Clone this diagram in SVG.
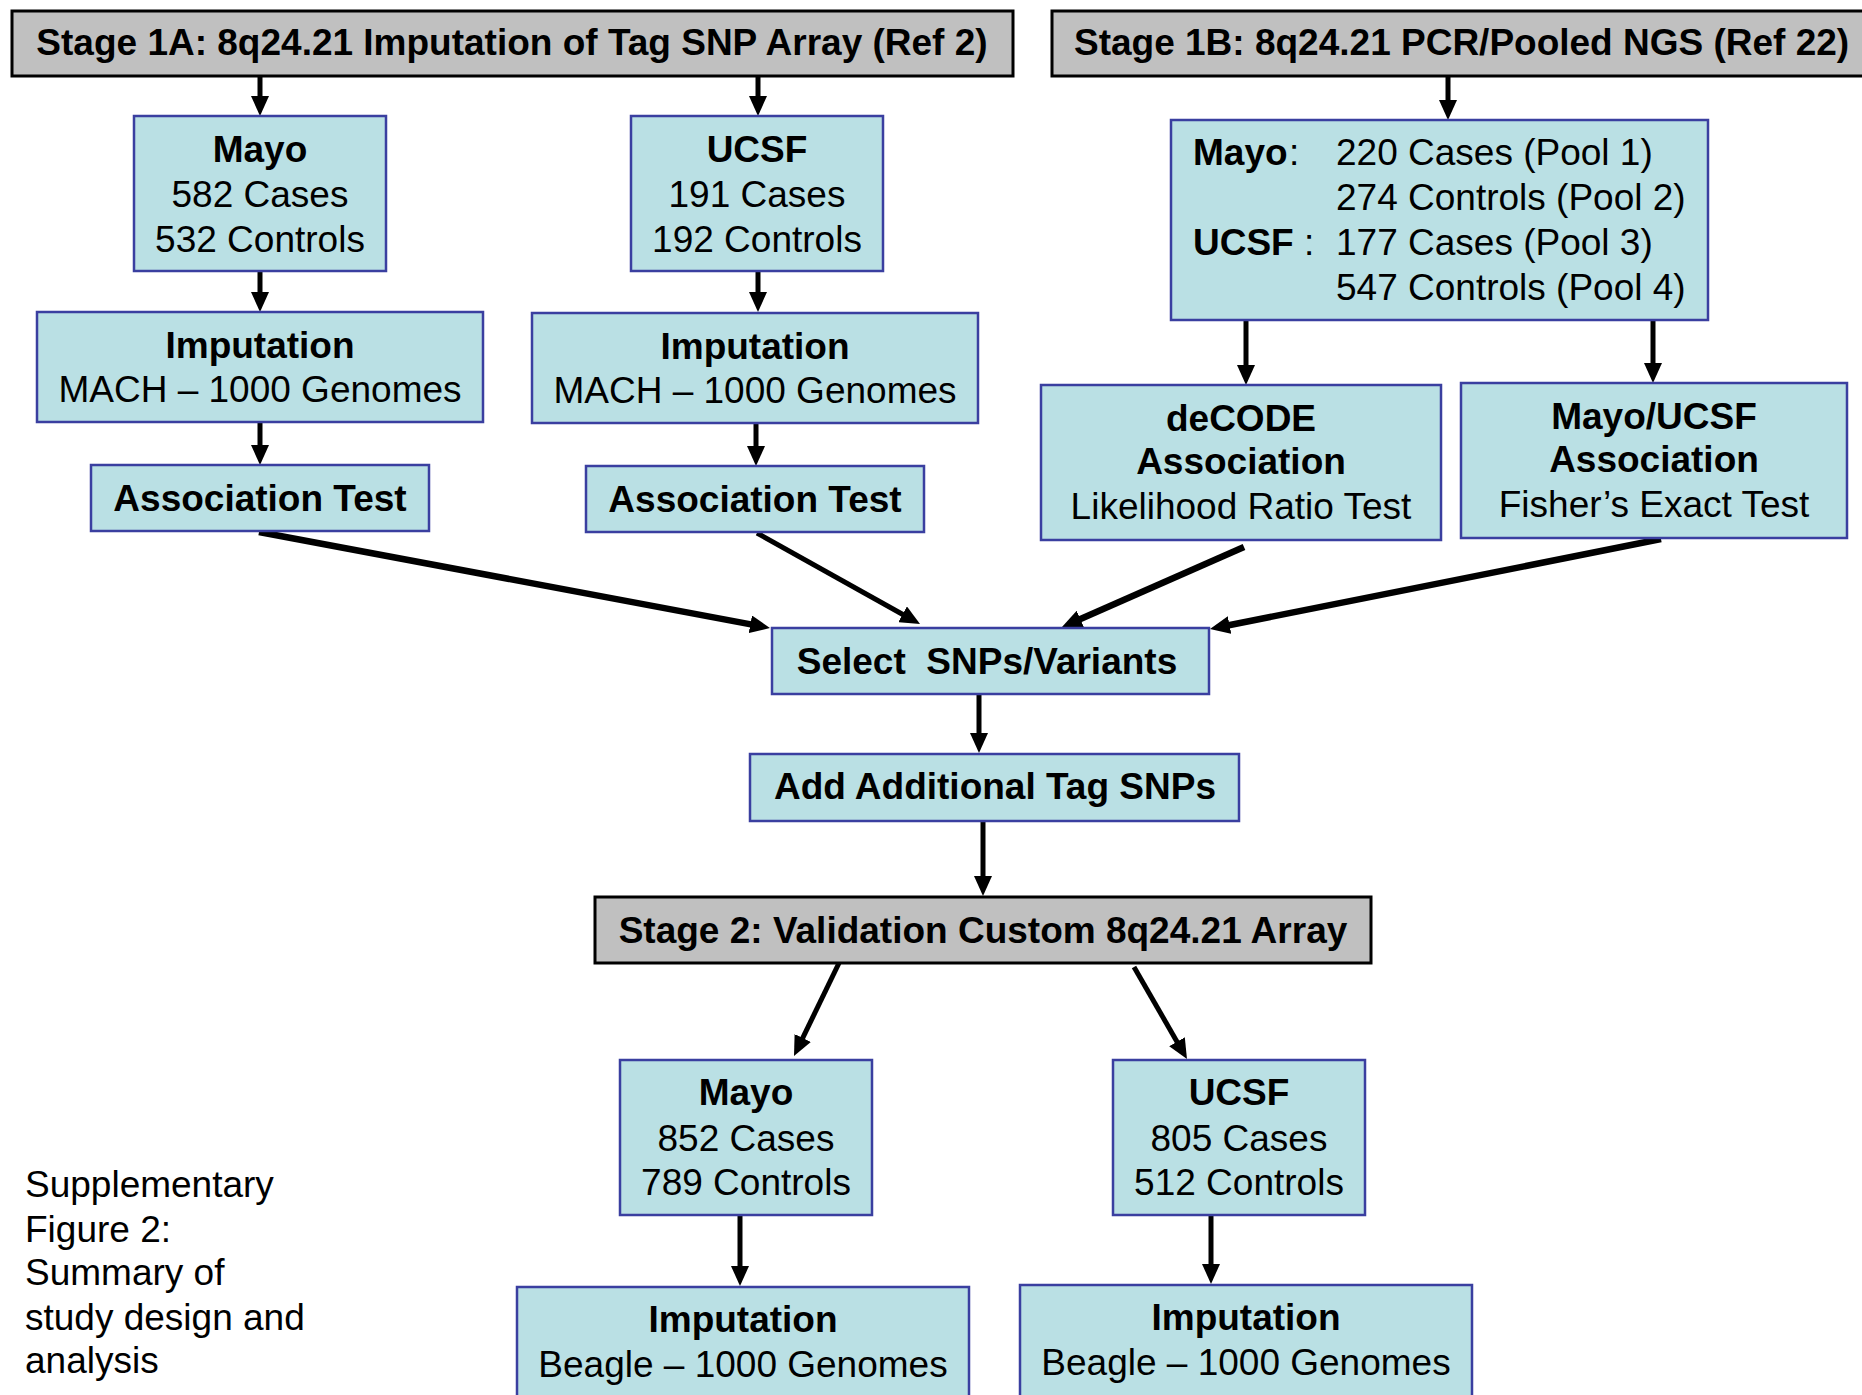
<svg xmlns="http://www.w3.org/2000/svg" width="1862" height="1395" viewBox="0 0 1862 1395">
<style>
text{font-family:"Liberation Sans",Arial,sans-serif;font-size:37px;fill:#000}
.b{font-weight:bold}
.m{text-anchor:middle}
.box{fill:#BAE0E4;stroke:#3A3FA0;stroke-width:2.5}
.stage{fill:#C0C0C0;stroke:#000;stroke-width:3}
.c{stroke:#000;fill:none;stroke-width:5;marker-end:url(#ah)}
.t{stroke-width:6.5}
</style>
<defs>
<marker id="ah" markerUnits="userSpaceOnUse" markerWidth="20" markerHeight="18" refX="6" refY="9" orient="auto" viewBox="0 0 20 18">
<path d="M0,0 L20,9 L0,18 z" fill="#000"/>
</marker>
</defs>
<rect width="1862" height="1395" fill="#fff"/>

<g id="connectors">
<line class="c" x1="260" y1="76" x2="260" y2="102"/>
<line class="c" x1="758" y1="76" x2="758" y2="102"/>
<line class="c" x1="260" y1="271" x2="260" y2="298"/>
<line class="c" x1="758" y1="271" x2="758" y2="298"/>
<line class="c" x1="260" y1="422" x2="260" y2="451"/>
<line class="c" x1="756" y1="423" x2="756" y2="452"/>
<line class="c" x1="1448" y1="76" x2="1448" y2="106"/>
<line class="c" x1="1246" y1="320" x2="1246" y2="371"/>
<line class="c" x1="1653" y1="320" x2="1653" y2="369"/>
<line class="c t" x1="259" y1="532" x2="756.2" y2="625.4"/>
<line class="c" x1="757" y1="533" x2="907.8" y2="617.2"/>
<line class="c t" x1="1244" y1="547" x2="1074.8" y2="621.4"/>
<line class="c t" x1="1661" y1="539" x2="1223.7" y2="626.3"/>
<line class="c" x1="979" y1="694" x2="979" y2="739"/>
<line class="c" x1="983" y1="821" x2="983" y2="882"/>
<line class="c" x1="839" y1="963" x2="800.1" y2="1043.4"/>
<line class="c" x1="1134" y1="967" x2="1180" y2="1046.9"/>
<line class="c" x1="740" y1="1215" x2="740" y2="1272"/>
<line class="c" x1="1211" y1="1215" x2="1211" y2="1270"/>
</g>

<g id="stage1a">
<rect class="stage" x="12" y="11" width="1001" height="65"/>
<text class="b m" x="512" y="55">Stage 1A: 8q24.21 Imputation of Tag SNP Array (Ref 2)</text>
</g>
<g id="stage1b">
<rect class="stage" x="1052" y="11" width="820" height="65"/>
<text class="b" x="1074" y="55">Stage 1B: 8q24.21 PCR/Pooled NGS (Ref 22)</text>
</g>

<g id="mayo1a">
<rect class="box" x="134" y="116" width="252" height="155"/>
<text class="b m" x="260" y="162">Mayo</text>
<text class="m" x="260" y="207">582 Cases</text>
<text class="m" x="260" y="252">532 Controls</text>
</g>
<g id="ucsf1a">
<rect class="box" x="631" y="116" width="252" height="155"/>
<text class="b m" x="757" y="162">UCSF</text>
<text class="m" x="757" y="207">191 Cases</text>
<text class="m" x="757" y="252">192 Controls</text>
</g>
<g id="imp1a-mayo">
<rect class="box" x="37" y="312" width="446" height="110"/>
<text class="b m" x="260" y="358">Imputation</text>
<text class="m" x="260" y="402">MACH – 1000 Genomes</text>
</g>
<g id="imp1a-ucsf">
<rect class="box" x="532" y="313" width="446" height="110"/>
<text class="b m" x="755" y="359">Imputation</text>
<text class="m" x="755" y="403">MACH – 1000 Genomes</text>
</g>
<g id="assoc-mayo">
<rect class="box" x="91" y="465" width="338" height="66"/>
<text class="b m" x="260" y="511">Association Test</text>
</g>
<g id="assoc-ucsf">
<rect class="box" x="586" y="466" width="338" height="66"/>
<text class="b m" x="755" y="512">Association Test</text>
</g>

<g id="pools">
<rect class="box" x="1171" y="120" width="537" height="200"/>
<text class="b" x="1193" y="165">Mayo</text>
<text x="1289" y="165">:</text>
<text x="1336" y="165">220 Cases (Pool 1)</text>
<text x="1336" y="210">274 Controls (Pool 2)</text>
<text class="b" x="1193" y="255">UCSF</text>
<text x="1304" y="255">:</text>
<text x="1336" y="255">177 Cases (Pool 3)</text>
<text x="1336" y="300">547 Controls (Pool 4)</text>
</g>
<g id="decode">
<rect class="box" x="1041" y="385" width="400" height="155"/>
<text class="b m" x="1241" y="431">deCODE</text>
<text class="b m" x="1241" y="474">Association</text>
<text class="m" x="1241" y="519">Likelihood Ratio Test</text>
</g>
<g id="mayoucsf">
<rect class="box" x="1461" y="383" width="386" height="155"/>
<text class="b m" x="1654" y="429">Mayo/UCSF</text>
<text class="b m" x="1654" y="472">Association</text>
<text class="m" x="1654" y="517">Fisher’s Exact Test</text>
</g>

<g id="select">
<rect class="box" x="772" y="628" width="437" height="66"/>
<text class="b m" x="987" y="674" xml:space="preserve">Select  SNPs/Variants</text>
</g>
<g id="addtag">
<rect class="box" x="750" y="754" width="489" height="67"/>
<text class="b m" x="995" y="799">Add Additional Tag SNPs</text>
</g>
<g id="stage2">
<rect class="stage" x="595" y="897" width="776" height="66"/>
<text class="b m" x="983" y="943">Stage 2: Validation Custom 8q24.21 Array</text>
</g>

<g id="mayo2">
<rect class="box" x="620" y="1060" width="252" height="155"/>
<text class="b m" x="746" y="1105">Mayo</text>
<text class="m" x="746" y="1151">852 Cases</text>
<text class="m" x="746" y="1195">789 Controls</text>
</g>
<g id="ucsf2">
<rect class="box" x="1113" y="1060" width="252" height="155"/>
<text class="b m" x="1239" y="1105">UCSF</text>
<text class="m" x="1239" y="1151">805 Cases</text>
<text class="m" x="1239" y="1195">512 Controls</text>
</g>
<g id="imp2-mayo">
<rect class="box" x="517" y="1287" width="452" height="120"/>
<text class="b m" x="743" y="1332">Imputation</text>
<text class="m" x="743" y="1377">Beagle – 1000 Genomes</text>
</g>
<g id="imp2-ucsf">
<rect class="box" x="1020" y="1285" width="452" height="120"/>
<text class="b m" x="1246" y="1330">Imputation</text>
<text class="m" x="1246" y="1375">Beagle – 1000 Genomes</text>
</g>

<g id="caption">
<text x="25" y="1197">Supplementary</text>
<text x="25" y="1242">Figure 2:</text>
<text x="25" y="1285">Summary of</text>
<text x="25" y="1330">study design and</text>
<text x="25" y="1373">analysis</text>
</g>
</svg>
